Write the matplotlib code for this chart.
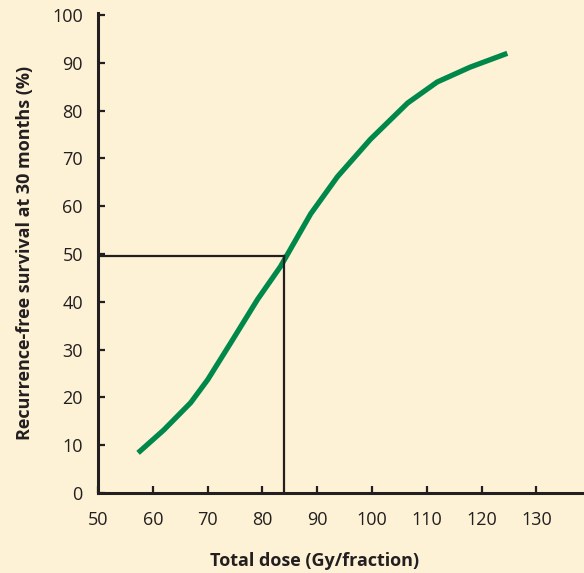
from matplotlib import pyplot as plt

# curve
dose = [57.3, 62.0, 66.9, 70.0, 74.2, 79.1, 83.3, 86.3, 88.8, 93.7, 99.7, 106.5, 111.9, 117.9, 124.7]
survival = [8.4, 13.2, 18.9, 23.7, 31.4, 40.5, 47.4, 53.4, 58.4, 66.2, 74.0, 81.6, 86.0, 89.1, 92.0]

# reference point (50% recurrence-free)
ref_dose = 84
ref_surv = 49.5

x_ticks = [50, 60, 70, 80, 90, 100, 110, 120, 130]
y_ticks = [0, 10, 20, 30, 40, 50, 60, 70, 80, 90, 100]

BG = '#fdf2d5'
GREEN = '#00884a'
DARK = '#231f20'

plt.rcParams['font.family'] = ['Open Sans', 'DejaVu Sans']

fig = plt.figure(figsize=(5.84, 5.73), dpi=100, facecolor=BG)
ax = fig.add_axes([0.168, 0.1396, 0.832, 0.8374])
ax.set_facecolor(BG)

ax.plot(dose, survival, color=GREEN, linewidth=3.8, solid_capstyle='butt',
        solid_joinstyle='round')
ax.plot([50, ref_dose], [ref_surv, ref_surv], color=DARK, linewidth=1.6)
ax.plot([ref_dose, ref_dose], [0, ref_surv], color=DARK, linewidth=1.6)

ax.set_xlim(50, 138.7)
ax.set_ylim(0, 100.4)
ax.set_xticks(x_ticks)
ax.set_yticks(y_ticks)

for side in ['top', 'right']:
    ax.spines[side].set_visible(False)
for side in ['left', 'bottom']:
    ax.spines[side].set_linewidth(2.2)
    ax.spines[side].set_color(DARK)

ax.tick_params(direction='in', length=5, width=1.6, color=DARK,
               labelsize=13, labelcolor=DARK)
ax.tick_params(axis='y', pad=11)
ax.tick_params(axis='x', pad=13)

ax.set_xlabel('Total dose (Gy/fraction)', fontsize=13, fontweight='bold',
              color=DARK)
ax.xaxis.set_label_coords(0.4465, -0.123)
ax.set_ylabel('Recurrence-free survival at 30 months (%)', fontsize=13,
              fontweight='bold', color=DARK, labelpad=13)

plt.savefig('out.png', facecolor=BG)
